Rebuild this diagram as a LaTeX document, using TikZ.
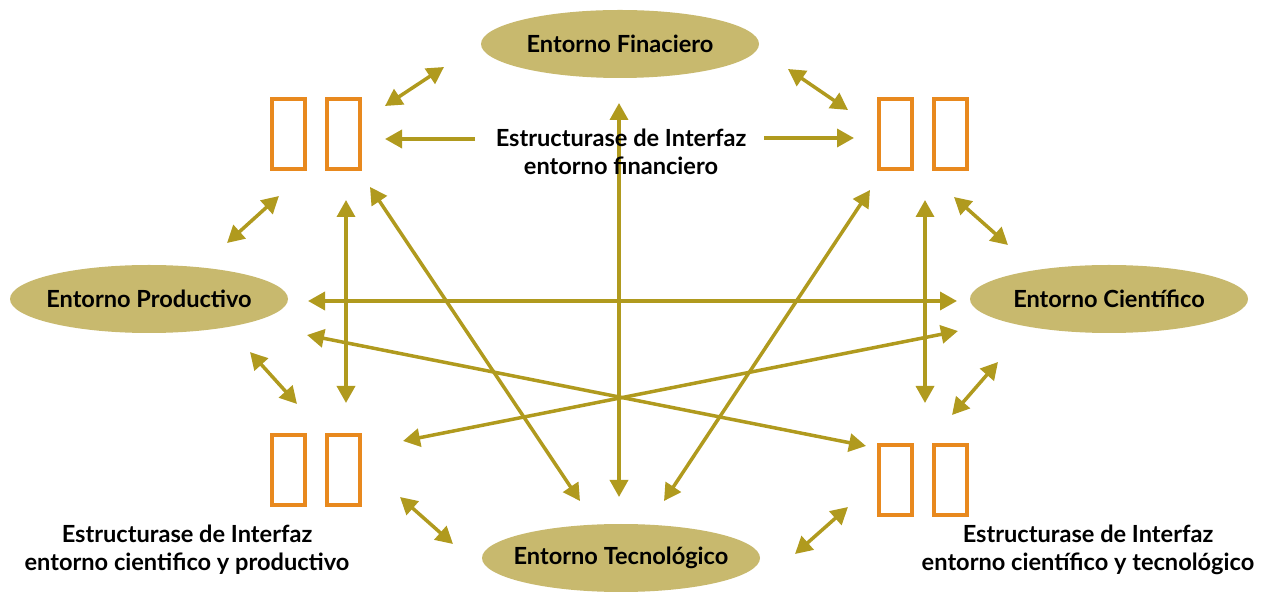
\documentclass[tikz,border=0pt]{standalone}
\usepackage{fontspec}
\setmainfont{Lato}
\usetikzlibrary{shapes.geometric,arrows.meta}

\definecolor{khaki}{HTML}{C8B96E}
\definecolor{olivegold}{HTML}{B09A1E}
\definecolor{boxorange}{HTML}{E8891E}

\tikzset{
  entorno/.style={ellipse, fill=khaki, minimum width=139pt, minimum height=34pt,
    inner xsep=-10pt, inner ysep=0pt, font=\bfseries\fontsize{11.8}{13.8}\selectfont},
  hueco/.style={draw=boxorange, line width=2pt, minimum width=16.5pt,
    minimum height=35pt, inner sep=0pt},
  rotulo/.style={align=center, font=\bfseries\fontsize{11.8}{13.8}\selectfont},
  enlace/.style={draw=olivegold, line width=1.75pt,
    {Triangle[length=8.5pt,width=9pt]}-{Triangle[length=8.5pt,width=9pt]}},
  flecha/.style={draw=olivegold, line width=1.75pt, -{Triangle[length=8.5pt,width=9pt]}}
}

\begin{document}
\begin{tikzpicture}[x=0.5pt,y=-0.5pt]
    \useasboundingbox (0,0) rectangle (1268,592);

        % entornos
        \node[entorno] (fin) at (620,44) {Entorno Finaciero};
        \node[entorno] (prod) at (149,299) {Entorno Productivo};
        \node[entorno] (cien) at (1109,299) {Entorno Científico};
        \node[entorno] (tec) at (621,558) {Entorno Tecnológico};

        % estructuras de interfaz
        \node[hueco] (tl1) at (288.5,134) {};
        \node[hueco] (tl2) at (343.5,134) {};
        \node[hueco] (tr1) at (895.5,134) {};
        \node[hueco] (tr2) at (950.5,134) {};
        \node[hueco] (bl1) at (288.5,470) {};
        \node[hueco] (bl2) at (343.5,470) {};
        \node[hueco] (br1) at (895.5,480) {};
        \node[hueco] (br2) at (950.5,480) {};

        % extremos de las flechas
        \coordinate (a1) at (385,106);  \coordinate (b1) at (444,67);
        \coordinate (a2) at (475,139);  \coordinate (b2) at (385,139);
        \coordinate (a3) at (764,138);  \coordinate (b3) at (854,138);
        \coordinate (a4) at (788,69);   \coordinate (b4) at (848,110);
        \coordinate (a5) at (279,196);  \coordinate (b5) at (227,243);
        \coordinate (a6) at (954,197);  \coordinate (b6) at (1008,245);
        \coordinate (a7) at (346,200);  \coordinate (b7) at (346,403);
        \coordinate (a8) at (925,200);  \coordinate (b8) at (925,403);
        \coordinate (a9) at (619,103);  \coordinate (b9) at (619,497);
        \coordinate (a10) at (370,187); \coordinate (b10) at (580,501);
        \coordinate (a11) at (870,190); \coordinate (b11) at (664,501);
        \coordinate (a12) at (308,301); \coordinate (b12) at (957,301);
        \coordinate (a13) at (307,335); \coordinate (b13) at (866,446);
        \coordinate (a14) at (958,331); \coordinate (b14) at (403,441);
        \coordinate (a15) at (250,352); \coordinate (b15) at (297,404);
        \coordinate (a16) at (998,362); \coordinate (b16) at (952,415);
        \coordinate (a17) at (400,497); \coordinate (b17) at (453,544);
        \coordinate (a18) at (848,507); \coordinate (b18) at (795,554);

        \draw[flecha] (a2) -- (b2);
        \draw[flecha] (a3) -- (b3);
        \foreach \i in {1,4,5,6,7,8,9,10,11,12,13,14,15,16,17,18}
            \draw[enlace] (a\i) -- (b\i);

        % rotulos
        \node[rotulo] (fintxt) at (621,152) {Estructurase de Interfaz\\entorno financiero};
        \node[rotulo] (bltxt) at (187,550) {Estructurase de Interfaz\\entorno cientifico y productivo};
        \node[rotulo] (brtxt) at (1088,550) {Estructurase de Interfaz\\entorno científico y tecnológico};

\end{tikzpicture}
\end{document}
